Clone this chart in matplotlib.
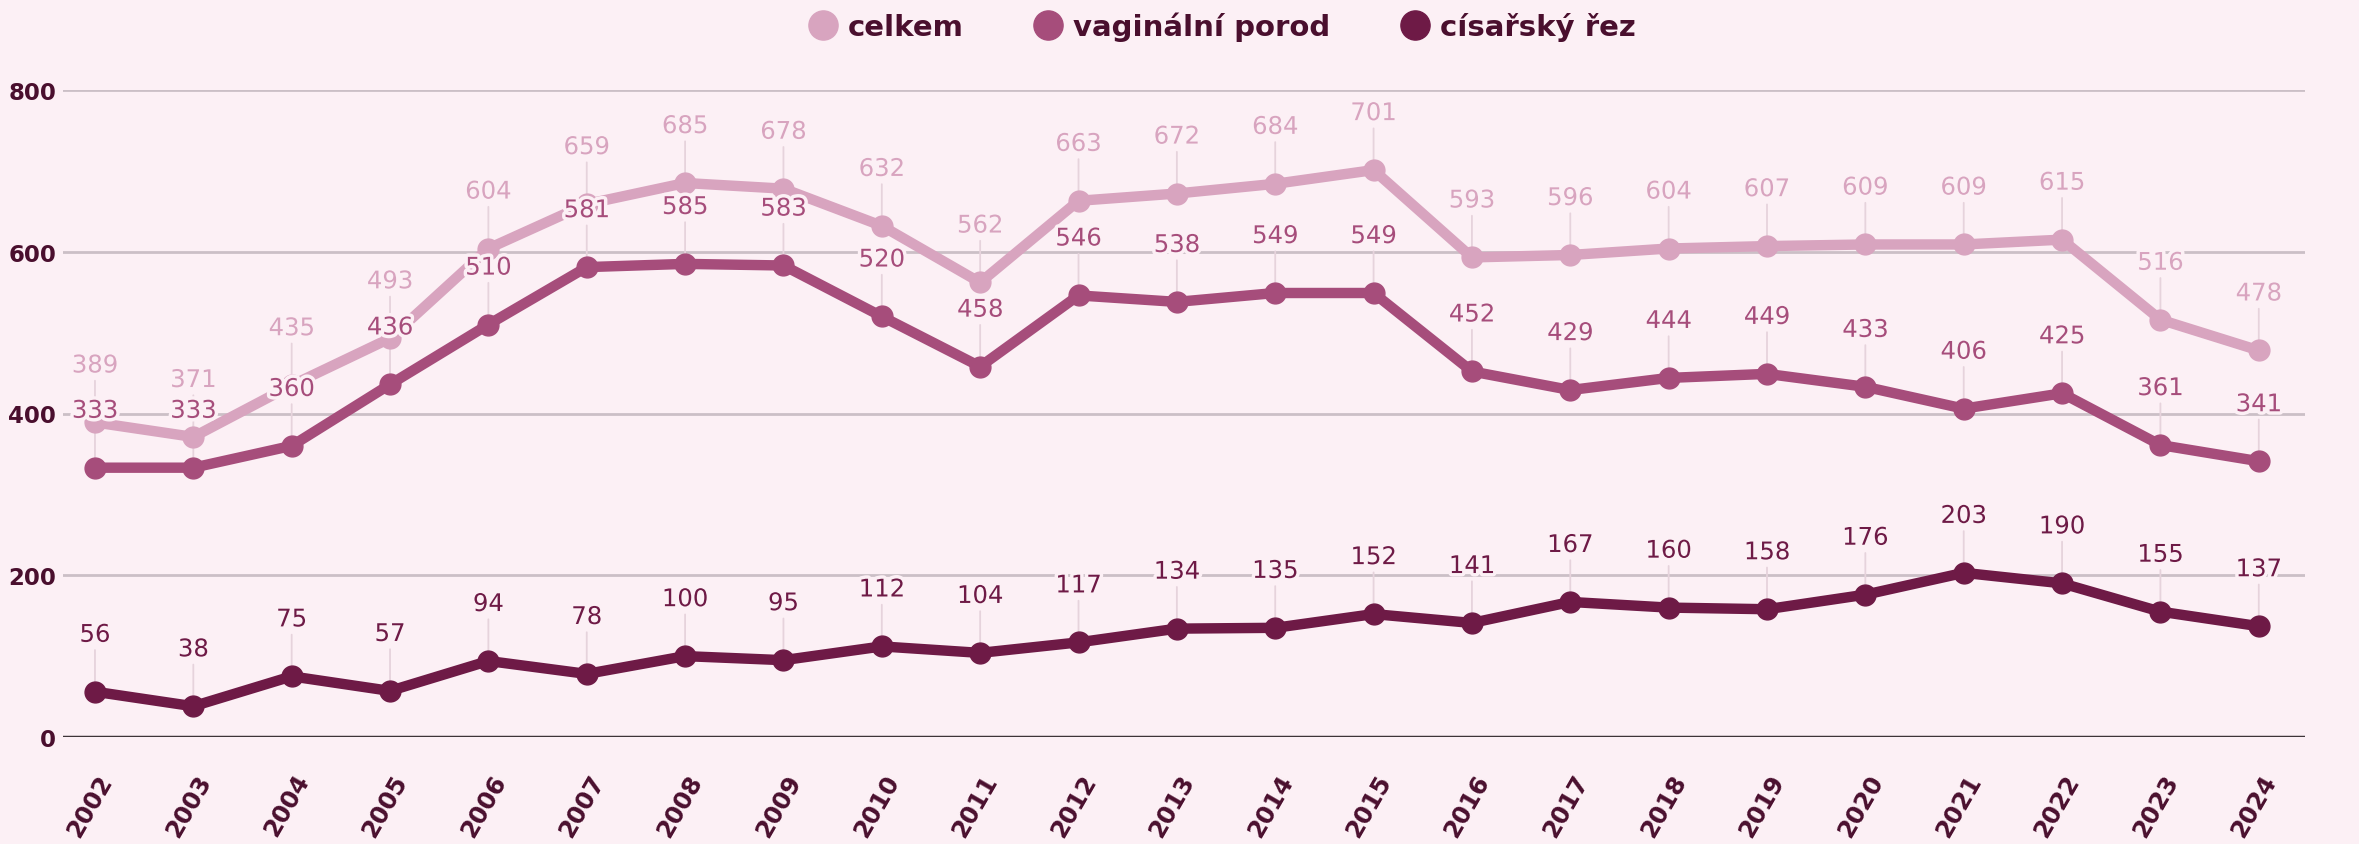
import numpy as np
import matplotlib
matplotlib.use("Agg")
import matplotlib.pyplot as plt
import matplotlib.patheffects as pe
from matplotlib.lines import Line2D
from matplotlib.transforms import ScaledTranslation

years = [str(y) for y in range(2002, 2025)]
celkem = [389, 371, 435, 493, 604, 659, 685, 678, 632, 562, 663, 672,
          684, 701, 593, 596, 604, 607, 609, 609, 615, 516, 478]
vaginalni = [333, 333, 360, 436, 510, 581, 585, 583, 520, 458, 546, 538,
             549, 549, 452, 429, 444, 449, 433, 406, 425, 361, 341]
cisarsky = [56, 38, 75, 57, 94, 78, 100, 95, 112, 104, 117, 134,
            135, 152, 141, 167, 160, 158, 176, 203, 190, 155, 137]

series_names = ["celkem", "vaginální porod", "císařský řez"]
colors = ["#d8a4bf", "#a64d7b", "#6e1a46"]
BG = "#fcf0f5"
DARK = "#4a0f2e"

plt.rcParams["font.family"] = ["DejaVu Sans"]

W, H = 2359, 845
fig = plt.figure(figsize=(W / 100, H / 100), dpi=100, facecolor=BG)
ax = fig.add_axes([63 / W, 1 - 738 / H, (2305 - 63) / W, (738 - 91) / H])
ax.set_facecolor(BG)

x = np.arange(len(years))
ax.set_xlim(-0.325, 22.47)
ax.set_ylim(0, 800)

# grid
ax.set_yticks([0, 200, 400, 600, 800])
for v in [200, 400, 600, 800]:
    ax.axhline(v, color="#cbbfc6", lw=2, zorder=0)
ax.axhline(0, color="#3d3438", lw=2.5, zorder=1)
for s in ax.spines.values():
    s.set_visible(False)
ax.tick_params(axis="both", length=0)
ax.tick_params(axis="y", pad=5)
for lab in ax.get_yticklabels():
    lab.set_fontsize(16.5)
    lab.set_fontweight("bold")
    lab.set_color(DARK)

ax.set_xticks(x)
ax.set_xticklabels(years, rotation=60, ha="right", va="center",
                   rotation_mode="anchor", fontsize=17.5, fontweight="bold",
                   color=DARK)
off = ScaledTranslation(12 / 100, -34 / 100, fig.dpi_scale_trans)
for lab in ax.get_xticklabels():
    lab.set_transform(lab.get_transform() + off)

data = [celkem, vaginalni, cisarsky]
for vals, c in zip(data, colors):
    ax.plot(x, vals, color=c, lw=7.5, marker="o", ms=15, zorder=3,
            solid_joinstyle="round", clip_on=False)

# value labels with leader lines
halo = [pe.withStroke(linewidth=5, foreground=BG)]
for vals, c in zip(data, colors):
    for xi, v in zip(x, vals):
        ax.annotate("", xy=(xi, v), xytext=(0, 30), textcoords="offset points",
                    arrowprops=dict(arrowstyle="-", color="#e6d3dc", lw=1.3,
                                    shrinkA=0, shrinkB=0), zorder=1)
        ax.annotate(str(v), xy=(xi, v), xytext=(0, 41),
                    textcoords="offset points", ha="center", va="center",
                    fontsize=17.5, color=c, zorder=6, path_effects=halo)

handles = [Line2D([], [], ls="", marker="o", ms=21, color=c) for c in colors]
leg = fig.legend(handles, series_names, loc="center", ncol=3,
                 bbox_to_anchor=(0.518, 1 - 27 / H), frameon=False,
                 handletextpad=0.35, columnspacing=2.4, handlelength=1.0,
                 prop={"size": 21, "weight": "bold"})
for t in leg.get_texts():
    t.set_color(DARK)

fig.savefig("out.png", dpi=100, facecolor=BG)
